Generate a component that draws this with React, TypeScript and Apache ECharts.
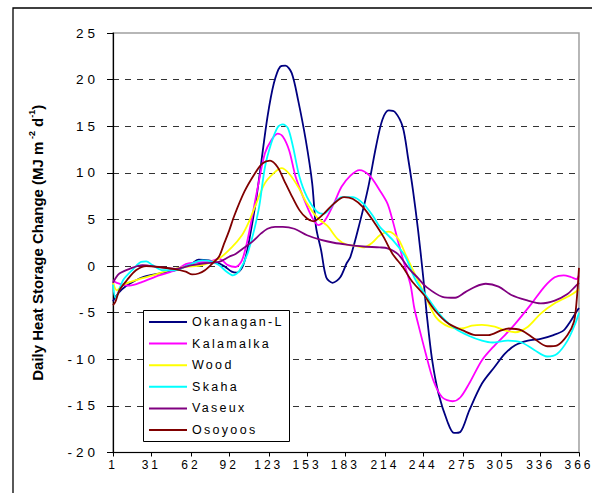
import React, { useEffect, useRef } from "react";
import * as echarts from "echarts";

const seriesNames = ["Okanagan-L", "Kalamalka", "Wood", "Skaha", "Vaseux", "Osoyoos"];
const seriesColors = ["#000080", "#FF00FF", "#FFFF00", "#00FFFF", "#800080", "#800000"];
const xTickDays = [1, 31, 62, 92, 123, 153, 183, 214, 244, 275, 305, 336, 366];

const okanaganDays = [1, 3, 8, 14, 24, 37, 50, 63, 68, 76, 84, 89, 94, 98, 102, 105, 108, 113, 117, 122, 127, 132, 136, 141, 146, 152, 157, 160, 164, 168, 173, 179, 184, 187, 194, 201, 207, 212, 217, 222, 228, 232, 236, 240, 244, 247, 251, 256, 263, 268, 273, 280, 290, 300, 308, 316, 326, 336, 346, 354, 359, 364, 366];
const okanaganValues = [-3.8, -3.3, -2.5, -1.9, -1.2, -0.8, -0.45, 0.3, 0.7, 0.6, 0.3, -0.1, -0.6, -0.7, -0.2, 1.0, 3.0, 7.0, 11.0, 16.0, 19.6, 21.4, 21.5, 20.7, 17.8, 13.5, 8.9, 4.2, 1.7, -1.2, -1.8, -1.2, 0.3, 1.0, 4.5, 8.5, 12.8, 15.7, 16.7, 16.5, 14.9, 11.7, 8.1, 3.8, -1.2, -5.5, -10.1, -13.7, -16.7, -17.9, -17.8, -15.5, -12.6, -10.8, -9.4, -8.5, -8.0, -7.8, -7.4, -6.9, -6.0, -4.9, -4.5];

const kalamalkaDays = [1, 4, 14, 24, 37, 50, 58, 66, 76, 84, 91, 97, 102, 107, 115, 120, 125, 130, 134, 139, 144, 150, 157, 162, 167, 174, 180, 187, 194, 202, 210, 216, 220, 224, 229, 234, 237, 240, 246, 252, 259, 267, 273, 280, 290, 300, 308, 316, 329, 339, 347, 354, 360, 364, 366];
const kalamalkaValues = [-1.5, -1.8, -2.1, -1.7, -1.0, -0.45, 0.2, 0.4, 0.45, 0.8, 0.1, -0.1, 0.6, 3.2, 8.9, 12.1, 13.5, 14.2, 13.9, 12.4, 9.6, 7.4, 5.2, 4.4, 4.9, 6.7, 8.5, 9.7, 10.3, 9.7, 8.1, 6.7, 4.9, 2.8, 0.3, -2.0, -4.5, -6.2, -9.4, -12.3, -14.1, -14.5, -14.1, -12.6, -10.1, -8.5, -7.4, -6.2, -4.0, -2.2, -1.2, -1.0, -1.2, -1.4, -1.0];

const woodDays = [1, 4, 9, 19, 32, 45, 58, 71, 84, 94, 102, 107, 112, 120, 128, 133, 139, 146, 153, 161, 169, 177, 184, 190, 197, 204, 210, 217, 224, 231, 238, 246, 254, 264, 274, 282, 290, 300, 308, 316, 326, 336, 347, 357, 364, 366];
const woodValues = [-1.8, -2.6, -2.0, -1.5, -1.0, -0.45, -0.1, 0.1, 0.8, 2.0, 3.3, 4.6, 6.3, 8.9, 10.1, 10.5, 9.9, 8.5, 6.7, 5.2, 4.3, 2.9, 2.3, 2.2, 2.0, 2.5, 3.3, 3.7, 3.0, 1.0, -1.0, -3.3, -5.5, -6.5, -6.7, -6.4, -6.3, -6.5, -6.9, -7.1, -6.5, -5.1, -4.0, -3.3, -2.7, -2.5];

const skahaDays = [1, 3, 9, 17, 23, 27, 32, 40, 50, 60, 71, 79, 84, 90, 95, 100, 107, 115, 120, 125, 130, 134, 138, 142, 147, 153, 161, 166, 174, 180, 189, 197, 205, 210, 220, 230, 238, 249, 259, 269, 280, 290, 298, 310, 321, 331, 341, 349, 357, 363, 366];
const skahaValues = [-2.0, -3.4, -1.5, -0.3, 0.45, 0.5, 0.1, -0.45, -0.45, 0.1, 0.6, 0.45, 0.1, -0.6, -1.0, -0.5, 1.6, 6.0, 10.6, 13.2, 14.9, 15.2, 14.8, 12.8, 9.6, 7.4, 5.8, 5.6, 6.7, 7.4, 7.4, 6.7, 5.3, 4.2, 2.8, 1.0, -1.5, -3.7, -5.5, -6.7, -7.5, -8.0, -8.2, -8.0, -8.2, -9.0, -9.7, -9.4, -8.0, -6.2, -5.0];

const vaseuxDays = [1, 3, 6, 14, 24, 37, 50, 63, 73, 84, 92, 97, 104, 110, 117, 122, 128, 134, 143, 153, 164, 174, 184, 197, 210, 216, 224, 233, 240, 246, 259, 269, 277, 285, 293, 303, 313, 326, 336, 347, 357, 363, 366];
const vaseuxValues = [-1.8, -1.3, -0.8, -0.3, 0.1, -0.1, -0.3, 0.1, 0.3, 0.45, 1.0, 1.3, 2.0, 2.6, 3.5, 4.0, 4.2, 4.2, 4.0, 3.3, 2.8, 2.5, 2.3, 2.1, 2.0, 1.9, 1.3, -0.3, -1.3, -2.2, -3.3, -3.4, -2.8, -2.2, -1.9, -2.2, -3.1, -3.7, -4.0, -3.7, -3.0, -2.2, -1.8];

const osoyoosDays = [1, 3, 6, 12, 19, 27, 37, 48, 58, 63, 68, 73, 79, 84, 88, 92, 96, 104, 112, 118, 124, 130, 135, 140, 147, 153, 158, 166, 174, 182, 189, 197, 205, 213, 220, 228, 235, 244, 254, 264, 275, 285, 295, 305, 311, 321, 331, 341, 349, 357, 362, 364, 366];
const osoyoosValues = [-4.2, -3.8, -2.6, -1.5, -0.45, 0.0, -0.1, -0.3, -0.6, -0.9, -0.8, -0.45, 0.3, 1.0, 2.4, 3.8, 5.4, 8.0, 9.9, 11.0, 11.3, 10.6, 9.2, 7.8, 6.0, 5.1, 4.8, 5.6, 6.7, 7.4, 7.2, 6.3, 4.8, 3.1, 1.3, -0.1, -1.6, -3.0, -4.9, -6.2, -6.9, -7.4, -7.4, -6.9, -6.7, -6.9, -7.8, -8.6, -8.5, -7.4, -6.0, -4.0, -0.2];

const allDays = [okanaganDays, kalamalkaDays, woodDays, skahaDays, vaseuxDays, osoyoosDays];
const allValues = [okanaganValues, kalamalkaValues, woodValues, skahaValues, vaseuxValues, osoyoosValues];

const css = `
.hsc text { letter-spacing: 2.3px; }
.hsc text[style*="13.5px"] { letter-spacing: 4px; }
.hsc text[style*="12px"] { letter-spacing: 3px; }
.hsc text[style*="bold"] { letter-spacing: 0px; }
`;

export default function App() {
  const ref = useRef<HTMLDivElement>(null);
  useEffect(() => {
    document.body.style.margin = "0";
    const chart = echarts.init(ref.current as HTMLDivElement, null, { renderer: "svg" });
    const font = "Arial, 'Liberation Sans', sans-serif";
    chart.setOption({
      animation: false,
      color: seriesColors,
      grid: {
        left: 113,
        top: 33,
        right: 7,
        bottom: 40.5,
        show: true,
        borderColor: "#a0a0a0",
        borderWidth: 1.5,
        backgroundColor: "transparent",
      },
      xAxis: {
        type: "value",
        min: 1,
        max: 366,
        axisLine: { onZero: false, lineStyle: { color: "#000", width: 1.2 } },
        axisTick: { customValues: xTickDays, length: 4, lineStyle: { color: "#000" } },
        axisLabel: { customValues: xTickDays, margin: 6, color: "#000", fontSize: 12, fontFamily: font },
        splitLine: { show: false },
      },
      yAxis: {
        type: "value",
        min: -20,
        max: 25,
        interval: 5,
        name: "{t|Daily Heat Storage Change (MJ m}{s| -2}{t| d}{s|-1}{t|)}",
        nameLocation: "middle",
        nameRotate: 90,
        nameGap: 66,
        nameTextStyle: {
          rich: {
            t: { fontSize: 15, fontWeight: "bold", fontFamily: font, color: "#000", lineHeight: 20 },
            s: { fontSize: 9, fontWeight: "bold", fontFamily: font, color: "#000", verticalAlign: "top", lineHeight: 11 },
          },
        },
        axisLine: { show: true, onZero: false, lineStyle: { color: "#000", width: 1.2 } },
        axisTick: { show: true, length: 6, lineStyle: { color: "#000" } },
        axisLabel: { margin: 14, color: "#000", fontSize: 13.5, fontFamily: font },
        splitLine: {
          show: true,
          showMinLine: false,
          showMaxLine: false,
          lineStyle: { color: "#333", type: [6, 6], width: 1 },
        },
      },
      legend: {
        orient: "vertical",
        left: 149,
        top: 315,
        padding: 0,
        itemGap: 7.6,
        itemWidth: 38,
        itemHeight: 2,
        icon: "rect",
        z: 20,
        textStyle: { fontSize: 12.5, fontFamily: font, color: "#000", lineHeight: 14 },
        data: seriesNames,
      },
      graphic: [
        {
          type: "rect",
          silent: true,
          z: 0,
          shape: { x: 13, y: 8, width: 640, height: 540 },
          style: { fill: "none", stroke: "#000", lineWidth: 1.3 },
        },
        {
          type: "rect",
          silent: true,
          z: 10,
          shape: { x: 143.5, y: 310.5, width: 146, height: 131 },
          style: { fill: "#fff", stroke: "#000", lineWidth: 1 },
        },
      ],
      series: seriesNames.map((name, i) => ({
        name,
        type: "line",
        data: allDays[i].map((d, j) => [d, allValues[i][j]]),
        showSymbol: false,
        symbol: "none",
        smooth: 0.3,
        lineStyle: { width: 1.8, color: seriesColors[i] },
        itemStyle: { color: seriesColors[i] },
        z: 2,
      })),
    });
    return () => chart.dispose();
  }, []);
  return (
    <>
      <style>{css}</style>
      <div className="hsc" ref={ref} style={{ width: 592, height: 493 }} />
    </>
  );
}
